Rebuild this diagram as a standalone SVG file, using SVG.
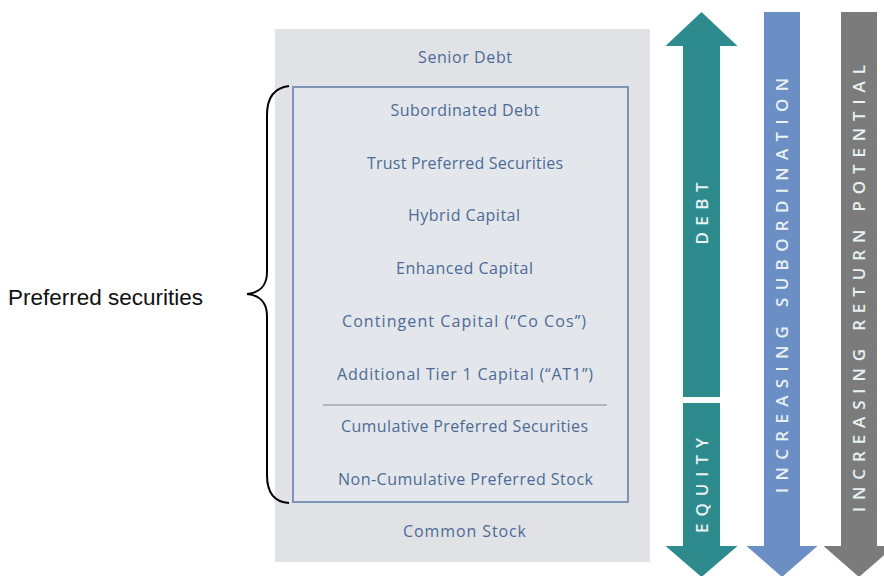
<svg xmlns="http://www.w3.org/2000/svg" width="884" height="576" viewBox="0 0 884 576">
  <style>
    .tier { font-family: "Open Sans", "Noto Sans", "DejaVu Sans", sans-serif; font-size: 16px; fill: #4d6b98; text-anchor: middle; }
    .band { font-family: "Open Sans", "Noto Sans", "DejaVu Sans", sans-serif; font-size: 17px; font-weight: 600; fill: #e9f1f3; text-anchor: middle; letter-spacing: 3px; }
    .label { font-family: "Liberation Sans", Arial, sans-serif; font-size: 22.5px; fill: #111111; }
  </style>

  <rect width="884" height="576" fill="#ffffff"/>

  <!-- capital structure stack -->
  <g id="stack">
    <rect x="275" y="29" width="375" height="533" fill="#e0e2e5"/>
    <rect id="preferred-box" x="293" y="87" width="335" height="415" fill="#e3e6ea" stroke="#7f95b6" stroke-width="2"/>
    <line x1="323" y1="405" x2="607" y2="405" stroke="#a2a8b0" stroke-width="1.5"/>
  </g>

  <g id="senior-debt"><text class="tier" x="465" y="63" textLength="94">Senior Debt</text></g>
  <g id="subordinated-debt"><text class="tier" x="465" y="116" textLength="149">Subordinated Debt</text></g>
  <g id="trust-preferred"><text class="tier" x="465" y="169" textLength="196">Trust Preferred Securities</text></g>
  <g id="hybrid-capital"><text class="tier" x="464" y="221" textLength="112">Hybrid Capital</text></g>
  <g id="enhanced-capital"><text class="tier" x="464.5" y="274" textLength="137">Enhanced Capital</text></g>
  <g id="contingent-capital"><text class="tier" x="464" y="327" textLength="244">Contingent Capital (“Co Cos”)</text></g>
  <g id="at1-capital"><text class="tier" x="465" y="380" textLength="256">Additional Tier 1 Capital (“AT1”)</text></g>
  <g id="cumulative-preferred"><text class="tier" x="464.5" y="432" textLength="247">Cumulative Preferred Securities</text></g>
  <g id="non-cumulative-preferred"><text class="tier" x="465.5" y="485" textLength="255">Non-Cumulative Preferred Stock</text></g>
  <g id="common-stock"><text class="tier" x="464.5" y="537" textLength="123">Common Stock</text></g>

  <!-- brace and label for the preferred group -->
  <g id="preferred-label">
    <path d="M289,86 C272,88 267,100 267,115 L267,272 C267,286 259,293 247,294 C259,295 267,302 267,316 L267,475 C267,490 272,502 289,503" fill="none" stroke="#000000" stroke-width="2"/>
    <text class="label" x="8" y="305">Preferred securities</text>
  </g>

  <!-- side arrows -->
  <g id="connectors">
    <polygon id="debt-arrow" points="701.5,12 737.5,46 720,46 720,397 683,397 683,46 665.5,46" fill="#2d8b8d"/>
    <polygon id="equity-arrow" points="683,403 720,403 720,546 737.5,546 701.5,577 665.5,546 683,546" fill="#2d8b8d"/>
    <polygon id="subordination-arrow" points="764,12 800,12 800,546 817.5,546 782,577 746.5,546 764,546" fill="#6b8ec5"/>
    <polygon id="return-arrow" points="841,12 877,12 877,546 894.5,546 859,577 823.5,546 841,546" fill="#7b7b7b"/>
  </g>

  <g id="debt-tag"><text class="band" transform="translate(701.5,212) rotate(-90)" dy="0.36em" textLength="65">DEBT</text></g>
  <g id="equity-tag"><text class="band" transform="translate(701.5,484) rotate(-90)" dy="0.36em" textLength="98">EQUITY</text></g>
  <g id="subordination-tag"><text class="band" transform="translate(782,284) rotate(-90)" dy="0.36em" textLength="418">INCREASING SUBORDINATION</text></g>
  <g id="return-tag"><text class="band" transform="translate(859,287) rotate(-90)" dy="0.36em" textLength="450">INCREASING RETURN POTENTIAL</text></g>
</svg>
